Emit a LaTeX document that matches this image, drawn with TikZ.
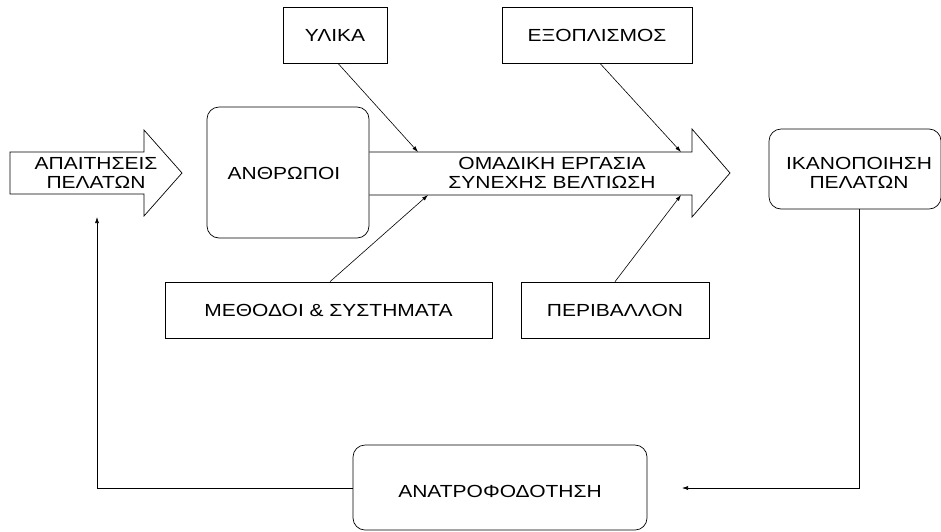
\documentclass[tikz,border=0pt]{standalone}
\usepackage{fontspec}
\setmainfont{Liberation Sans}[FakeStretch=1.2]
\usetikzlibrary{arrows.meta}
\tikzset{
  lbl/.style={font=\fontsize{17.5}{18.5}\selectfont, align=center, inner sep=0pt},
  sqbox/.style={draw, line width=0.7pt, inner sep=0pt},
  rbox/.style={draw, line width=0.7pt, rounded corners=12pt, inner sep=0pt},
  blockarrow/.style={draw, line width=0.7pt, line join=miter},
  link/.style={line width=0.6pt, -{Latex[length=6pt,width=4pt]}}
}
\begin{document}
\begin{tikzpicture}[x=1pt, y=-1pt]
\useasboundingbox (0,0) rectangle (941,531);

% incoming block arrow
\draw[blockarrow] (10,152) -- (144,152) -- (144,130) -- (182,173) -- (144,216) -- (144,194) -- (10,194) -- cycle;
\node[lbl] (apait) at (96,173) {ΑΠΑΙΤΗΣΕΙΣ\\ΠΕΛΑΤΩΝ};

% people box and main process arrow
\node[rbox, minimum width=162pt, minimum height=131pt] (anthr) at (288,172.5) {};
\node[lbl] at (284,173) {ΑΝΘΡΩΠΟΙ};
\draw[blockarrow] (anthr.east |- 0,152) -- (692,152) -- (692,129) -- (730,173) -- (692,217) -- (692,195) -- (anthr.east |- 0,195);
\node[lbl] (omad) at (552,173) {ΟΜΑΔΙΚΗ ΕΡΓΑΣΙΑ\\ΣΥΝΕΧΗΣ ΒΕΛΤΙΩΣΗ};

% contact points on the process arrow
\coordinate (t1) at (418,152);
\coordinate (t2) at (681,152);
\coordinate (b1) at (428,195);
\coordinate (b2) at (681,195);

% input boxes
\node[sqbox, minimum width=104pt, minimum height=56pt, lbl] (ylika) at (335,35) {ΥΛΙΚΑ};
\node[sqbox, minimum width=190pt, minimum height=56pt, lbl] (exop) at (597,35) {ΕΞΟΠΛΙΣΜΟΣ};
\node[sqbox, minimum width=327pt, minimum height=56pt, lbl] (meth) at (328.5,310) {ΜΕΘΟΔΟΙ \& ΣΥΣΤΗΜΑΤΑ};
\node[sqbox, minimum width=188pt, minimum height=56pt, lbl] (perib) at (615,310) {ΠΕΡΙΒΑΛΛΟΝ};

% outcome and feedback
\node[rbox, minimum width=172pt, minimum height=80pt] (ikan) at (855,169) {};
\node[lbl] at (859,173) {ΙΚΑΝΟΠΟΙΗΣΗ\\ΠΕΛΑΤΩΝ};
\node[rbox, minimum width=294pt, minimum height=85pt] (anat) at (500,487.5) {};
\node[lbl] at (500,491) {ΑΝΑΤΡΟΦΟΔΟΤΗΣΗ};

% connectors
\draw[link] (ylika.south -| 338,0) -- (t1);
\draw[link] (exop.south -| 600,0) -- (t2);
\draw[link] (meth.north -| 330,0) -- (b1);
\draw[link] (perib.north) -- (b2);

\coordinate (fbend) at (682,488);
\draw[link] (ikan.south -| 859,0) |- (fbend);
\coordinate (inend) at (97,217);
\draw[link] (anat.west |- 0,488) -| (inend);
\end{tikzpicture}
\end{document}
